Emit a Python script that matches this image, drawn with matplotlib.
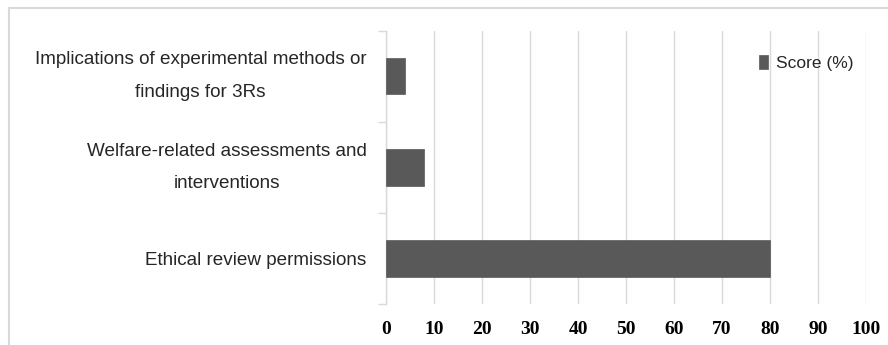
import matplotlib
matplotlib.use("Agg")
import matplotlib.pyplot as plt
from matplotlib.patches import Rectangle

categories = ["Ethical review permissions",
              "Welfare-related assessments and\ninterventions",
              "Implications of experimental methods or\nfindings for 3Rs"]
scores = [80, 8, 4]
xticks = [0, 10, 20, 30, 40, 50, 60, 70, 80, 90, 100]
series_name = "Score (%)"

fig = plt.figure(figsize=(8.88, 3.45), dpi=100)
fig.patches.append(Rectangle((8.5/888, -0.1), 1.2, (345-8)/345 + 0.1, transform=fig.transFigure,
                             fill=False, edgecolor="#d9d9d9", linewidth=1.5, zorder=0))
ax = fig.add_axes([386/888, 1-304/345, (866-386)/888, (304-30.7)/345])

ypos = list(range(len(categories)))
ax.barh(ypos, scores, height=0.4, color="#595959", edgecolor="#595959", linewidth=0.5,
        label=series_name, zorder=3)
ax.set_xlim(0, 100)
ax.set_ylim(-0.5, len(categories) - 0.5)
ax.set_xticks(xticks)
ax.set_xticklabels([str(t) for t in xticks], fontfamily="Liberation Serif",
                   fontweight="bold", fontsize=14)
ax.set_yticks(ypos)
ax.set_yticklabels(categories, fontfamily="Liberation Sans", fontsize=13.6,
                   linespacing=2.2, ha="right", multialignment="center")
ax.set_yticks([-0.5, 0.5, 1.5, 2.5], minor=True)
ax.tick_params(axis="y", which="major", length=0, pad=14)
ax.tick_params(axis="y", which="minor", length=6, color="#d9d9d9", width=1)
ax.tick_params(axis="x", length=0, pad=12)
for lbl in ax.get_yticklabels():
    lbl.set_color("#262626")
    if "\n" in lbl.get_text():
        lbl.set_verticalalignment("center")
ax.xaxis.grid(True, color="#d9d9d9", linewidth=1, zorder=0)
ax.set_axisbelow(True)
for s in ["top", "right", "bottom"]:
    ax.spines[s].set_visible(False)
ax.spines["left"].set_color("#d9d9d9")
ax.spines["left"].set_linewidth(1)

leg = ax.legend(loc="upper right", bbox_to_anchor=(0.974, 0.912), frameon=False,
                prop={"family": "Liberation Sans", "size": 12.5},
                handlelength=0.55, handleheight=0.85, handletextpad=0.45, borderaxespad=0,
                borderpad=0)
for t in leg.get_texts():
    t.set_color("#262626")

fig.savefig("out.png", dpi=100)
